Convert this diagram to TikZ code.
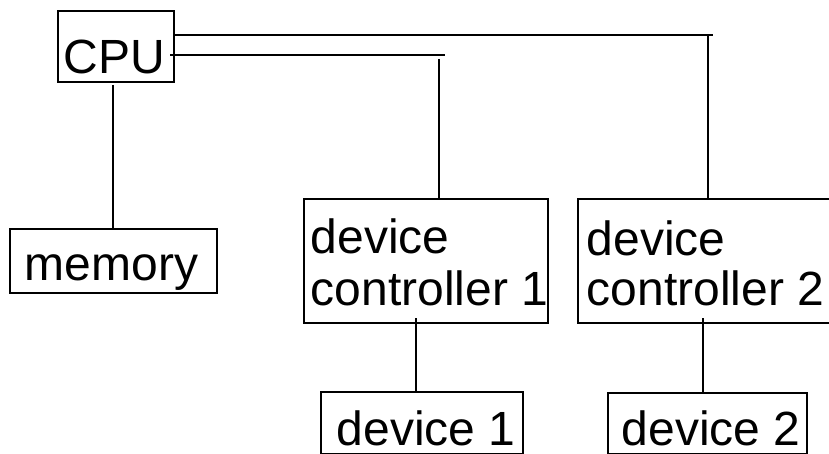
\documentclass[tikz,border=0pt]{standalone}
\usepackage{fontspec}
\setmainfont{Liberation Sans}
\begin{document}
\begin{tikzpicture}[x=1pt,y=-1pt,line width=1.7pt,
  boxx/.style={draw,rectangle,inner sep=0pt,anchor=north west},
  txt/.style={inner sep=0pt,anchor=base west,font=\fontsize{48}{52}\selectfont}]
\useasboundingbox (0,0) rectangle (829,454);
% boxes
\node[boxx,minimum width=116pt,minimum height=71pt] (cpu) at (57,10) {};
\node[boxx,minimum width=207pt,minimum height=64pt] (mem) at (9,228) {};
\node[boxx,minimum width=244pt,minimum height=124pt] (dc1) at (303,198) {};
\node[boxx,minimum width=256pt,minimum height=124pt] (dc2) at (577,198) {};
\node[boxx,minimum width=202pt,minimum height=62pt] (dev1) at (320,391) {};
\node[boxx,minimum width=199pt,minimum height=61pt] (dev2) at (607,392) {};
% texts
\node[txt] (tcpu) at (63,74) {CPU};
\node[txt] (tmem) at (24,280) {memory};
\node[txt] (tdc1a) at (310,253) {device};
\node[txt] (tdc1b) at (310,305) {controller 1};
\node[txt] (tdc2a) at (586,255) {device};
\node[txt] (tdc2b) at (586,305) {controller 2};
\node[txt] (tdev1) at (336,445) {device 1};
\node[txt] (tdev2) at (621,445) {device 2};
% bus coordinates
\coordinate (b1) at (713,35);
\coordinate (j2) at (708,35);
\coordinate (b2) at (445,55);
\coordinate (j1) at (439,59);
\coordinate (m0) at (112.7,85);
\coordinate (c1) at (416,318);
\coordinate (c2) at (703,318);
% connectors
\draw (cpu.east |- b1) -- (b1);
\draw (j2) -- (j2 |- dc2.north);
\draw (170,55) -- (b2);
\draw (j1) -- (j1 |- dc1.north);
\draw (m0) -- (m0 |- mem.north);
\draw (c1) -- (c1 |- dev1.north);
\draw (c2) -- (c2 |- dev2.north);
\end{tikzpicture}
\end{document}
